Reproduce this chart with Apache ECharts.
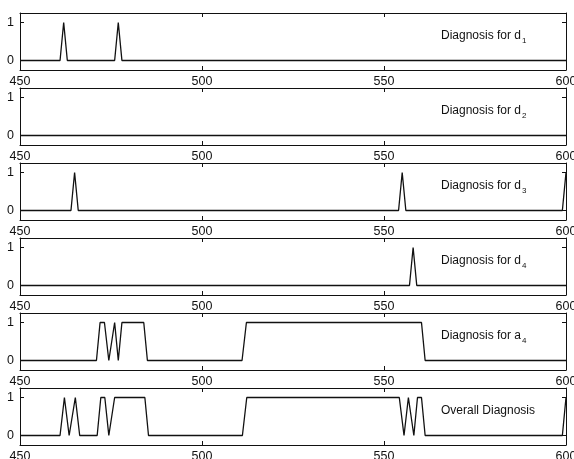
<!DOCTYPE html>
<html>
<head>
<meta charset="utf-8">
<script src="https://cdn.jsdelivr.net/npm/echarts@6/dist/echarts.min.js"></script>
<style>html,body{margin:0;padding:0;background:#fff}#c{width:574px;height:459px}</style>
</head>
<body>
<div id="c"></div>
<script>
// ---- data ----
const xTicks = [450, 500, 550, 600];
const yTicks = [0, 1];
const d1 = [[450,0],[461,0],[462,1],[463,0],[476,0],[477,1],[478,0],[600,0]];
const d2 = [[450,0],[600,0]];
const d3 = [[450,0],[464,0],[465,1],[466,0],[554,0],[555,1],[556,0],[599,0],[600,1]];
const d4 = [[450,0],[557,0],[558,1],[559,0],[600,0]];
const a4 = [[450,0],[471,0],[472,1],[473.2,1],[474.4,0],[476,1],[477,0],[478,1],[484,1],[485,0],[511,0],[512.2,1],[560.3,1],[561.3,0],[600,0]];
const overall = [[450,0],[461,0],[462.2,1],[463.5,0],[465.2,1],[466.4,0],[471.2,0],[472.2,1],[473.3,1],[474.4,0],[476,1],[484.3,1],[485.3,0],[511.1,0],[512.3,1],[554.2,1],[555.5,0],[556.7,1],[558.2,0],[559.2,1],[560.3,1],[561.3,0],[599,0],[600,1]];
const seriesData = [d1, d2, d3, d4, a4, overall];
const panelLabels = [
  'Diagnosis for d{s|1}',
  'Diagnosis for d{s|2}',
  'Diagnosis for d{s|3}',
  'Diagnosis for d{s|4}',
  'Diagnosis for a{s|4}',
  'Overall Diagnosis'
];

// ---- layout ----
const tops = [13, 88, 163, 238, 313, 388];
const H = 57;
const FONT = '"Liberation Sans", Arial, sans-serif';
const black = '#111';

const grid = [], xAxis = [], yAxis = [], series = [], graphic = [];
tops.forEach((t, i) => {
  grid.push({left: 20, right: 8, top: t, height: H, show: false, containLabel: false, outerBoundsMode: 'none'});
  const common = {
    type: 'value', gridIndex: i, min: 450, max: 600,
    axisLine: {show: true, onZero: false, lineStyle: {color: black, width: 1}},
    splitLine: {show: false},
    axisTick: {show: true, inside: true, length: 4, lineStyle: {color: black}, customValues: xTicks},
  };
  xAxis.push(Object.assign({}, common, {
    position: 'bottom',
    axisLabel: {show: true, customValues: xTicks, color: black, fontSize: 12.5, fontFamily: FONT, margin: 5, hideOverlap: false}
  }));
  xAxis.push(Object.assign({}, common, {
    position: 'top', axisLabel: {show: false}
  }));
  const yCommon = {
    type: 'value', gridIndex: i, min: -0.25, max: 1.25,
    axisLine: {show: true, onZero: false, lineStyle: {color: black, width: 1}},
    splitLine: {show: false},
    axisTick: {show: true, inside: true, length: 4, lineStyle: {color: black}, customValues: yTicks},
  };
  yAxis.push(Object.assign({}, yCommon, {
    position: 'left',
    axisLabel: {show: true, customValues: yTicks, color: black, fontSize: 12.5, fontFamily: FONT, margin: 6}
  }));
  yAxis.push(Object.assign({}, yCommon, {
    position: 'right', axisLabel: {show: false}
  }));
  series.push({
    type: 'line', xAxisIndex: 2 * i, yAxisIndex: 2 * i,
    data: seriesData[i], showSymbol: false, symbol: 'none',
    lineStyle: {color: black, width: 1.3}, animation: false
  });
  graphic.push({
    type: 'text', left: 441, top: t + 17,
    style: {
      text: panelLabels[i], fill: black,
      font: '12px ' + FONT,
      rich: {s: {fontSize: 8, fontFamily: FONT, fill: black, padding: [9, 0, 0, 1]}}
    }
  });
});

const chart = echarts.init(document.getElementById('c'), null, {renderer: 'canvas'});
chart.setOption({
  animation: false,
  backgroundColor: '#fff',
  grid, xAxis, yAxis, series, graphic
});
</script>
</body>
</html>
